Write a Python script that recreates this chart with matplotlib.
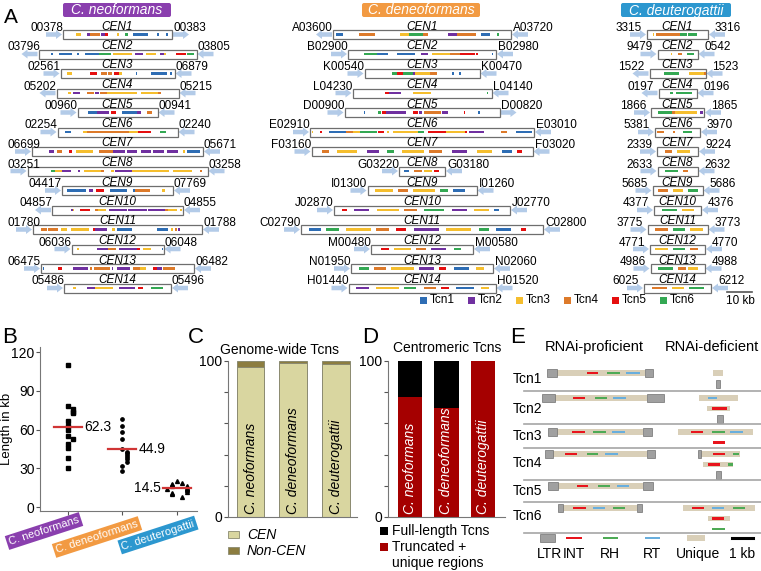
import matplotlib
matplotlib.use('Agg')
import matplotlib.pyplot as plt
from matplotlib.patches import Rectangle, FancyArrow, FancyBboxPatch

plt.rcParams['font.family'] = ['Liberation Sans', 'DejaVu Sans']

# ---------------- dados painel A ----------------
species = ['C. neoformans', 'C. deneoformans', 'C. deuterogattii']
cen_names = ['CEN%d' % i for i in range(1, 15)]
tcn_names = ['Tcn1', 'Tcn2', 'Tcn3', 'Tcn4', 'Tcn5', 'Tcn6']

# comprimento da regiao desenhada (kb)
neo_len = [43.6, 63.2, 45.6, 48.8, 32.0, 48.0, 68.4, 72.0, 44.4, 52.4, 67.6, 36.8, 61.2, 42.8]
deneo_len = [71.2, 59.2, 46.0, 55.6, 62.0, 89.6, 88.4, 18.4, 43.6, 70.4, 96.8, 40.8, 56.8, 58.8]
deut_len = [24.4, 16.0, 22.4, 15.2, 21.2, 18.0, 16.4, 16.0, 20.0, 18.8, 24.0, 22.0, 21.6, 26.8]

neo_left_ids = ['00378', '03796', '02561', '05202', '00960', '02254', '06699', '03251', '04417', '04857', '01780', '06036', '06475', '05486']
neo_right_ids = ['00383', '03805', '06879', '05215', '00941', '02240', '05671', '03258', '07769', '04855', '01788', '06048', '06482', '05496']
deneo_left_ids = ['A03600', 'B02900', 'K00540', 'L04230', 'D00900', 'E02910', 'F03160', 'G03220', 'I01300', 'J02870', 'C02790', 'M00480', 'N01950', 'H01440']
deneo_right_ids = ['A03720', 'B02980', 'K00470', 'L04140', 'D00820', 'E03010', 'F03020', 'G03180', 'I01260', 'J02770', 'C02800', 'M00580', 'N02060', 'H01520']
deut_left_ids = ['3315', '9479', '1522', '0197', '1866', '5381', '2339', '2633', '5685', '4377', '3775', '4771', '4986', '6025']
deut_right_ids = ['3316', '0542', '1523', '0196', '1865', '3970', '9224', '2632', '5686', '4376', '3773', '4770', '4988', '6212']

# orientacao dos genes flanqueadores
neo_left_dir = 'RLRLRRRRRLRRRR'
neo_right_dir = 'RLLLLLLLLLLLLL'
deneo_left_dir = 'LRRRRRRRRRRRRR'
deneo_right_dir = 'LLLLRLLLLLLLLL'
deut_left_dir = 'RRLLRRRRRRRRRR'
deut_right_dir = 'LLLLLLLLLLLLLL'

# elementos Tcn: (inicio kb, fim kb, tipo 1-6)
neo_tes = [
    [(5.2, 7.2, 3), (9.7, 10.8, 2), (10.8, 14.8, 4), (15.2, 16.8, 2), (16.8, 18.1, 5), (21.5, 22.3, 3), (24.8, 25.9, 6), (27.9, 34.1, 1), (37.7, 38.5, 1), (41.1, 41.9, 1)],
    [(5.1, 5.7, 1), (8.1, 13.5, 1), (15.3, 16.1, 1), (18.4, 24.1, 1), (24.1, 29.1, 6), (29.7, 37.5, 3), (38.4, 41.7, 2), (43.1, 47.1, 3), (48.4, 50.0, 2), (50.0, 51.1, 3), (54.8, 59.1, 5), (59.3, 62.0, 6)],
    [(2.7, 4.7, 3), (11.6, 14.7, 5), (16.0, 18.7, 4), (19.1, 20.4, 4), (21.3, 23.3, 5), (23.3, 24.7, 3), (30.0, 30.7, 1), (36.3, 42.7, 1), (43.7, 44.7, 1)],
    [(4.4, 5.7, 3), (6.5, 9.5, 2), (12.1, 15.1, 4), (15.5, 16.8, 2), (17.5, 20.1, 4), (20.1, 32.1, 3), (33.7, 40.4, 3), (40.4, 41.7, 4)],
    [(4.1, 7.9, 1), (7.9, 12.5, 2), (13.2, 15.2, 5), (17.9, 23.9, 1), (23.9, 25.2, 2), (27.6, 29.9, 4)],
    [(2.9, 5.5, 1), (10.3, 11.6, 3), (11.6, 28.5, 4), (28.5, 32.1, 3), (32.1, 37.5, 5), (40.9, 43.5, 6)],
    [(6.9, 8.9, 2), (10.1, 11.9, 4), (14.9, 15.9, 5), (17.6, 24.3, 3), (26.9, 32.3, 4), (32.3, 37.2, 2), (37.9, 42.1, 2), (43.5, 47.5, 2), (48.5, 52.8, 2), (53.9, 58.5, 2), (60.3, 61.2, 3), (61.9, 67.2, 1)],
    [(9.2, 10.8, 6), (10.8, 13.9, 3), (13.9, 17.2, 2), (20.3, 20.9, 2), (22.5, 29.2, 3), (29.2, 30.5, 4), (33.2, 34.5, 3), (34.9, 41.9, 2), (41.9, 56.5, 3), (58.3, 65.9, 3), (68.9, 69.9, 4)],
    [(2.1, 9.6, 1), (10.9, 12.3, 2), (13.5, 16.8, 5), (19.2, 25.9, 1), (28.3, 29.2, 1), (29.2, 35.2, 4), (39.9, 41.2, 3)],
    [(7.5, 8.3, 2), (8.3, 8.8, 3), (11.2, 15.2, 5), (17.2, 18.5, 4), (18.5, 21.6, 3), (22.9, 29.9, 2), (30.5, 37.9, 2), (38.5, 45.2, 2), (45.2, 46.5, 4), (46.5, 49.9, 3), (51.2, 51.9, 3)],
    [(3.1, 5.5, 4), (6.1, 10.1, 4), (11.2, 13.5, 3), (15.1, 22.5, 3), (23.9, 24.8, 5), (24.8, 29.7, 2), (31.5, 32.8, 3), (33.7, 39.5, 1), (49.7, 54.1, 1), (55.1, 55.9, 3), (56.8, 57.5, 4), (58.1, 58.8, 2)],
    [(2.3, 3.1, 3), (10.3, 14.5, 2), (14.5, 17.6, 4), (18.9, 26.3, 2), (26.3, 27.3, 5), (28.7, 31.6, 3), (36.0, 36.7, 1)],
    [(0.7, 1.1, 1), (6.9, 8.3, 5), (12.9, 18.9, 2), (19.6, 20.3, 4), (21.3, 27.6, 4), (28.3, 28.9, 2), (30.3, 35.6, 2), (36.9, 39.6, 4), (39.6, 42.0, 3), (44.7, 46.3, 5), (46.5, 48.3, 2), (48.9, 53.6, 4)],
    [(3.7, 4.8, 3), (9.3, 12.4, 2), (12.4, 19.7, 3), (22.1, 28.4, 2), (29.7, 31.5, 5), (34.7, 39.5, 6)],
]
deneo_tes = [
    [(1.2, 4.1, 1), (10.5, 16.8, 4), (26.8, 30.5, 3), (30.5, 36.1, 6), (36.1, 38.1, 4), (46.1, 49.5, 2), (49.7, 57.2, 4), (59.1, 62.8, 1), (65.7, 66.5, 6)],
    [(6.4, 11.5, 6), (11.5, 16.1, 1), (19.5, 26.8, 1), (29.2, 32.1, 2), (33.5, 40.8, 3), (40.8, 44.8, 4), (44.8, 50.8, 5), (51.2, 51.9, 5), (57.5, 58.1, 1)],
    [(11.1, 12.9, 6), (12.9, 15.3, 5), (15.3, 19.3, 6), (19.3, 20.0, 2), (20.0, 26.0, 3), (26.0, 28.9, 4), (35.1, 35.6, 1), (37.6, 38.4, 1)],
    [(12.8, 14.4, 5), (14.4, 19.5, 2), (24.1, 31.5, 3), (53.7, 54.3, 6)],
    [(7.6, 8.1, 1), (13.3, 14.7, 6), (15.1, 16.4, 5), (16.4, 24.7, 2), (27.3, 29.3, 5), (29.7, 31.1, 2), (31.6, 38.7, 4), (39.1, 41.3, 2), (47.6, 48.1, 5), (53.3, 54.0, 1)],
    [(0.7, 1.3, 3), (4.1, 4.8, 5), (7.7, 14.4, 1), (14.4, 17.1, 4), (17.1, 20.1, 3), (20.1, 26.8, 6), (27.1, 29.5, 5), (30.8, 31.7, 3), (33.1, 43.1, 3), (43.1, 45.7, 6), (47.1, 54.4, 5), (54.4, 62.0, 3), (62.0, 62.8, 5), (63.7, 69.5, 2), (76.4, 78.8, 4), (82.4, 88.8, 1)],
    [(4, 7, 4), (10, 18, 3), (22, 27, 2), (30, 33, 6), (36, 45, 3), (47, 52, 4), (56, 62, 2), (66, 72, 3), (76, 80, 1), (82, 84, 5)],
    [(2, 4, 1), (6, 9, 4), (10, 13, 3), (14, 16, 5)],
    [(3, 10, 3), (12, 16, 4), (18, 27, 3), (29, 32, 6), (34, 39, 1)],
    [(3, 5, 5), (8, 14, 2), (17, 26, 3), (28, 33, 4), (36, 44, 6), (47, 53, 2), (56, 62, 3), (64, 66, 1)],
    [(3, 8, 1), (10, 15, 6), (18, 28, 3), (30, 35, 4), (38, 42, 5), (45, 55, 2), (58, 68, 3), (71, 75, 6), (78, 84, 1), (88, 90, 5)],
    [(4, 7, 5), (9, 16, 3), (18, 22, 4), (24, 30, 2), (33, 36, 6)],
    [(3, 7, 6), (9, 14, 4), (16, 25, 3), (27, 33, 2), (35, 38, 5), (41, 47, 1), (50, 53, 3)],
    [(3, 8, 2), (11, 20, 3), (22, 27, 6), (30, 35, 4), (37, 40, 5), (43, 50, 1), (53, 56, 3)],
]
deut_tes = [
    [(2.3, 2.8, 3), (3.6, 13.2, 4), (13.2, 15.9, 6), (16.5, 19.9, 6)],
    [(5.2, 5.9, 3), (8.1, 9.9, 4), (11.9, 14.5, 6)],
    [(5.7, 11.7, 6), (15.7, 21.7, 3), (21.7, 22.4, 4)],
    [(4.4, 5.7, 6), (7.1, 13.5, 6)],
    [(2.9, 8.3, 6), (8.3, 9.6, 4), (9.6, 18.3, 3), (19.6, 20.7, 2)],
    [(0.9, 3.6, 4), (7.3, 8.0, 4), (11.3, 14.7, 6)],
    [(3, 6, 4), (8, 13, 3)],
    [(3, 8, 6), (10, 12, 4)],
    [(2, 6, 4), (8, 12, 3), (14, 18, 6)],
    [(3, 9, 6), (11, 16, 3)],
    [(3, 8, 4), (10, 15, 6), (17, 22, 3)],
    [(2, 7, 3), (9, 14, 6), (16, 19, 4)],
    [(3, 9, 6), (11, 14, 4), (15, 19, 3)],
    [(3, 9, 4), (11, 16, 3), (18, 24, 6)],
]

# ---------------- dados painel B ----------------
neo_kb = [110, 78, 76, 74, 73, 67, 63, 60, 55, 53, 49, 46, 38, 30]
deneo_kb = [68, 63, 58, 53, 45, 43, 42, 40, 39, 37, 35, 32, 28]
deut_kb = [20, 19, 18, 17, 16, 16, 15, 14, 14, 13, 12, 11, 10, 8]
mean_kb = [62.3, 44.9, 14.5]

# ---------------- dados paineis C e D ----------------
cen_pct = [96, 99, 98]
noncen_pct = [4, 1, 2]
truncated_pct = [77, 70, 100]
fulllength_pct = [23, 30, 0]

# ---------------- dados painel E (kb) ----------------
e_rows = ['Tcn1', 'Tcn2', 'Tcn3', 'Tcn4', 'Tcn5', 'Tcn6']
proficient = [
    [('U', 0.81, 5.0), ('LTR', 0.33, 0.81), ('LTR', 5.0, 5.38), ('INT', 2.24, 2.76), ('RH', 3.19, 3.81), ('RT', 4.10, 4.76)],
    [('U', 0.71, 5.1), ('LTR', 0.10, 0.71), ('LTR', 5.1, 5.9), ('INT', 1.57, 2.14), ('RH', 2.62, 3.19), ('RT', 3.48, 4.10)],
    [('U', 0.81, 4.9), ('LTR', 0.38, 0.81), ('LTR', 4.9, 5.33), ('INT', 1.52, 2.14), ('RH', 2.52, 3.14), ('RT', 3.43, 4.05)],
    [('U', 0.62, 5.1), ('LTR', 0.24, 0.62), ('LTR', 5.1, 5.48), ('INT', 1.19, 1.76), ('RH', 2.24, 2.76), ('RT', 3.10, 3.71)],
    [('U', 0.86, 4.9), ('LTR', 0.38, 0.86), ('LTR', 4.9, 5.38), ('INT', 1.76, 2.29), ('RH', 2.76, 3.33), ('RT', 3.67, 4.24)],
    [('U', 1.10, 4.62), ('LTR', 0.86, 1.10), ('LTR', 4.62, 4.86), ('INT', 1.57, 2.19), ('RT', 2.52, 3.10), ('RH', 3.48, 4.05)],
]
deficient = [
    [[('U', 8.24, 8.71)], [('LTR', 8.38, 8.57)]],
    [[('U', 7.57, 9.43), ('RT', 8.0, 8.43)], [('U', 7.95, 9.05), ('INT', 8.19, 8.9)], [('LTR', 8.43, 8.71)]],
    [[('U', 6.57, 10.14), ('INT', 7.19, 7.76), ('RH', 8.19, 8.81), ('RT', 9.05, 9.67)], [('INT', 8.24, 8.81)]],
    [[('U', 7.67, 9.52), ('LTR', 7.52, 7.67), ('INT', 8.24, 8.81), ('RH', 9.19, 9.48)],
     [('U', 7.76, 9.19), ('INT', 8.0, 8.57), ('RH', 8.95, 9.19)], [('LTR', 8.38, 8.62)]],
    [],
    [[('U', 6.81, 10.24), ('INT', 7.24, 7.81), ('RT', 8.19, 8.76), ('RH', 9.19, 9.76)],
     [('U', 8.0, 9.05), ('INT', 8.19, 8.76)], [('RH', 8.19, 8.81)]],
]

# ---------------- estilos ----------------
tcn_colors = ['#2E6DB4', '#7030A0', '#F5BE2E', '#DD7A2A', '#E50F0F', '#34A853']
sp_colors = ['#8A3FAE', '#F29A42', '#2C97CF']
dom_colors = {'INT': '#E8141C', 'RH': '#4DAA55', 'RT': '#68AEDD'}
arrow_color = '#B3CBE8'

fig = plt.figure(figsize=(7.61, 5.71), dpi=100)
cv = fig.add_axes([0, 0, 1, 1])
cv.set_xlim(0, 761)
cv.set_ylim(571, 0)
cv.axis('off')

# ===== PAINEL A =====
cv.text(4, 23, 'A', fontsize=15, ha='left', va='baseline')
ppk = 2.5
col_center = [117.5, 422, 677.5]
hdr_x = [(63, 171), (362, 480), (621, 731)]
lens = [neo_len, deneo_len, deut_len]
tes = [neo_tes, deneo_tes, deut_tes]
left_ids = [neo_left_ids, deneo_left_ids, deut_left_ids]
right_ids = [neo_right_ids, deneo_right_ids, deut_right_ids]
left_dirs = [neo_left_dir, deneo_left_dir, deut_left_dir]
right_dirs = [neo_right_dir, deneo_right_dir, deut_right_dir]
lab_gap = [(0, 1), (0, 2), (-5, 7)]


def seta(x0, y, d, comp=16):
    if d == 'R':
        a = FancyArrow(x0, y, comp, 0, width=4.5, head_width=9, head_length=6,
                       length_includes_head=True, color=arrow_color, lw=0)
    else:
        a = FancyArrow(x0 + comp, y, -comp, 0, width=4.5, head_width=9, head_length=6,
                       length_includes_head=True, color=arrow_color, lw=0)
    cv.add_patch(a)


for c in range(3):
    x1, x2 = hdr_x[c]
    cv.add_patch(FancyBboxPatch((x1, 3), x2 - x1, 14, boxstyle='round,pad=0,rounding_size=2',
                                fc=sp_colors[c], ec='none'))
    cv.text((x1 + x2) / 2, 10.5, species[c], color='white', style='italic', fontsize=10,
            ha='center', va='center')
    for i in range(14):
        w = lens[c][i] * ppk
        left = col_center[c] - w / 2
        right = left + w
        top = 30 + 19.5 * i
        yc = top + 4.5
        seta(left - 17, yc, left_dirs[c][i])
        seta(right + 1, yc, right_dirs[c][i])
        cv.add_patch(Rectangle((left, top), w, 9, fc='white', ec='#6E6E6E', lw=0.9))
        for s, e, t in tes[c][i]:
            cv.add_patch(Rectangle((left + s * ppk, yc - 1.4), (e - s) * ppk, 2.8,
                                   fc=tcn_colors[t - 1], lw=0))
        cv.text(col_center[c], top - 0.5, cen_names[i], ha='center', va='baseline',
                fontsize=8.5, style='italic')
        xl = max(left + lab_gap[c][0], 40) if c == 0 else left + lab_gap[c][0]
        cv.text(xl, top + 1, left_ids[c][i], ha='right', va='baseline', fontsize=8.5)
        cv.text(right + lab_gap[c][1], top + 1, right_ids[c][i], ha='left', va='baseline', fontsize=8.5)

# legenda Tcn (logo abaixo do painel A)
for k, nome in enumerate(tcn_names):
    sx = 420 + 48 * k
    cv.add_patch(Rectangle((sx, 296.5), 7, 7, fc=tcn_colors[k], lw=0))
    cv.text(sx + 9.5, 300, nome, fontsize=8.5, ha='left', va='center')
cv.plot([727, 727 + 10 * ppk], [292, 292], color='#555555', lw=1.2)
cv.text(740, 301, '10 kb', fontsize=8.5, ha='center', va='center')

# ===== PAINEL B =====
cv.text(2, 343, 'B', fontsize=16, ha='left', va='baseline')
axB = fig.add_axes([40 / 761, 60 / 571, 157 / 761, 164 / 571])


def swarm(vals, passo=0.09, tol=3):
    pad = [0, passo, -passo, 2 * passo, -2 * passo, 3 * passo, -3 * passo]
    offs = []
    for i, v in enumerate(vals):
        k = sum(1 for u in vals[:i] if abs(u - v) < tol)
        offs.append(pad[k % len(pad)])
    return offs


grupos = [neo_kb, deneo_kb, deut_kb]
marcas = ['s', 'o', '^']
tams = [2.6, 2.4, 2.8]
for g, vals in enumerate(grupos):
    offs = swarm(vals)
    axB.plot([g + o for o in offs], vals, ls='none', marker=marcas[g], ms=tams[g],
             color='black', mec='black')
    axB.plot([g - 0.26, g + 0.26], [mean_kb[g], mean_kb[g]], color='#D03535', lw=1.6)
    if g < 2:
        axB.text(g + 0.3, mean_kb[g], '%.1f' % mean_kb[g], ha='left', va='center', fontsize=10)
    else:
        axB.text(g - 0.29, mean_kb[g], '%.1f' % mean_kb[g], ha='right', va='center', fontsize=10)

axB.set_xlim(-0.51, 2.37)
axB.set_ylim(-3, 124)
axB.set_yticks([0, 30, 60, 90, 120])
axB.set_xticks([0, 1, 2])
axB.set_xticklabels([])
axB.tick_params(direction='out', length=3, labelsize=10, pad=1, color='#555555')
for s in ['top', 'right']:
    axB.spines[s].set_visible(False)
for s in ['left', 'bottom']:
    axB.spines[s].set_color('#777777')
axB.set_ylabel('Length in kb', fontsize=9.5)
axB.yaxis.set_label_coords(-0.175, 0.5)

cat_pos = [(44, 531), (97, 537), (158, 535)]
for k in range(3):
    cv.text(cat_pos[k][0], cat_pos[k][1], species[k], rotation=18, color='white', fontsize=8,
            ha='center', va='center',
            bbox=dict(boxstyle='square,pad=0.2', fc=sp_colors[k], ec='none'))

# ===== PAINEL C =====
cv.text(188, 343, 'C', fontsize=16, ha='left', va='baseline')
axC = fig.add_axes([228 / 761, 54 / 571, 129 / 761, 156 / 571])
xs = [0, 1, 2]
axC.bar(xs, cen_pct, width=0.65, color='#D9D6A0', edgecolor='#8A8A70', lw=0.7)
axC.bar(xs, noncen_pct, bottom=cen_pct, width=0.65, color='#8C7D40', edgecolor='#8A8A70', lw=0.7)
for k in range(3):
    axC.text(xs[k], 2, species[k], rotation=90, ha='center', va='bottom', style='italic', fontsize=10)
axC.set_xlim(-0.53, 2.5)
axC.set_ylim(0, 100)
axC.set_yticks([0, 20, 40, 60, 80, 100])
axC.set_yticklabels(['0', '', '', '', '', '100'])
axC.set_xticks([])
axC.tick_params(direction='out', length=3, labelsize=10, pad=1, color='#555555')
for s in ['top', 'right']:
    axC.spines[s].set_visible(False)
for s in ['left', 'bottom']:
    axC.spines[s].set_color('#777777')
cv.text(280, 350, 'Genome-wide Tcns', fontsize=10, ha='center', va='center')
cv.add_patch(Rectangle((228, 531), 11, 7, fc='#D9D6A0', ec='#8A8A70', lw=0.6))
cv.text(247, 535, 'CEN', style='italic', fontsize=10, ha='left', va='center')
cv.add_patch(Rectangle((228, 547), 11, 7, fc='#8C7D40', ec='#8A8A70', lw=0.6))
cv.text(247, 551, 'Non-CEN', style='italic', fontsize=10, ha='left', va='center')

# ===== PAINEL D =====
cv.text(362, 343, 'D', fontsize=16, ha='left', va='baseline')
axD = fig.add_axes([388 / 761, 54 / 571, 117 / 761, 156 / 571])
axD.bar(xs, truncated_pct, width=0.68, color='#A50000', lw=0)
axD.bar(xs, fulllength_pct, bottom=truncated_pct, width=0.68, color='black', lw=0)
for k in range(3):
    axD.text(xs[k], 2, species[k], rotation=90, ha='center', va='bottom', style='italic',
             fontsize=10, color='white')
axD.set_xlim(-0.6, 2.6)
axD.set_ylim(0, 100)
axD.set_yticks([0, 20, 40, 60, 80, 100])
axD.set_yticklabels(['0', '', '', '', '', '100'])
axD.set_xticks([])
axD.tick_params(direction='out', length=3, labelsize=10, pad=1, color='#555555')
for s in ['top', 'right']:
    axD.spines[s].set_visible(False)
for s in ['left', 'bottom']:
    axD.spines[s].set_color('#777777')
cv.text(447, 348, 'Centromeric Tcns', fontsize=10, ha='center', va='center')
cv.add_patch(Rectangle((380, 527), 8, 8, fc='black', lw=0))
cv.text(392, 531, 'Full-length Tcns', fontsize=10, ha='left', va='center')
cv.add_patch(Rectangle((380, 543), 8, 8, fc='#A50000', lw=0))
cv.text(392, 547, 'Truncated +', fontsize=10, ha='left', va='center')
cv.text(392, 563, 'unique regions', fontsize=10, ha='left', va='center')

# ===== PAINEL E =====
cv.text(510, 343, 'E', fontsize=16, ha='left', va='baseline')
cv.text(594, 347, 'RNAi-proficient', fontsize=10.5, ha='center', va='center')
cv.text(712, 347, 'RNAi-deficient', fontsize=10.5, ha='center', va='center')
e_x0 = 540
e_ppk = 21
row_y = [373, 398, 432, 454, 486, 508]
label_y = [379, 409, 436, 463, 491, 516]
sep_y = [391, 424, 448, 480, 502, 533]
sub_step = 10.5


def elemento(parts, y):
    for kind in ('U', 'LTR', 'INT', 'RH', 'RT'):
        for p, s, e in parts:
            if p != kind:
                continue
            x = e_x0 + s * e_ppk
            w = (e - s) * e_ppk
            if p == 'U':
                cv.add_patch(Rectangle((x, y - 2.6), w, 5.2, fc='#D9CFB8', lw=0))
            elif p == 'LTR':
                cv.add_patch(Rectangle((x, y - 4), w, 8, fc='#A0A0A0', ec='#707070', lw=0.5))
            else:
                cv.add_patch(Rectangle((x, y - 1.2), w, 2.4, fc=dom_colors[p], lw=0))


for r in range(6):
    cv.text(513, label_y[r], e_rows[r], fontsize=10, ha='left', va='center')
    cv.plot([524, 761], [sep_y[r], sep_y[r]], color='#A5A5A5', lw=1.2)
    elemento(proficient[r], row_y[r])
    for j, linha in enumerate(deficient[r]):
        elemento(linha, row_y[r] + j * sub_step)

# legenda E
cv.add_patch(Rectangle((540, 534), 15, 8, fc='#A0A0A0', ec='#707070', lw=0.5))
cv.add_patch(Rectangle((566, 536.8), 16, 2.4, fc=dom_colors['INT'], lw=0))
cv.add_patch(Rectangle((603, 536.8), 15, 2.4, fc=dom_colors['RH'], lw=0))
cv.add_patch(Rectangle((645, 536.8), 15, 2.4, fc=dom_colors['RT'], lw=0))
cv.add_patch(Rectangle((687, 535), 18, 6, fc='#D9CFB8', lw=0))
cv.plot([732, 732 + 1 * e_ppk], [538, 538], color='black', lw=2.2)
for txt, xx in [('LTR', 550), ('INT', 574), ('RH', 610), ('RT', 652), ('Unique', 698), ('1 kb', 742)]:
    cv.text(xx, 554, txt, fontsize=10, ha='center', va='center')

fig.savefig('out.png', dpi=100)
plt.close(fig)
